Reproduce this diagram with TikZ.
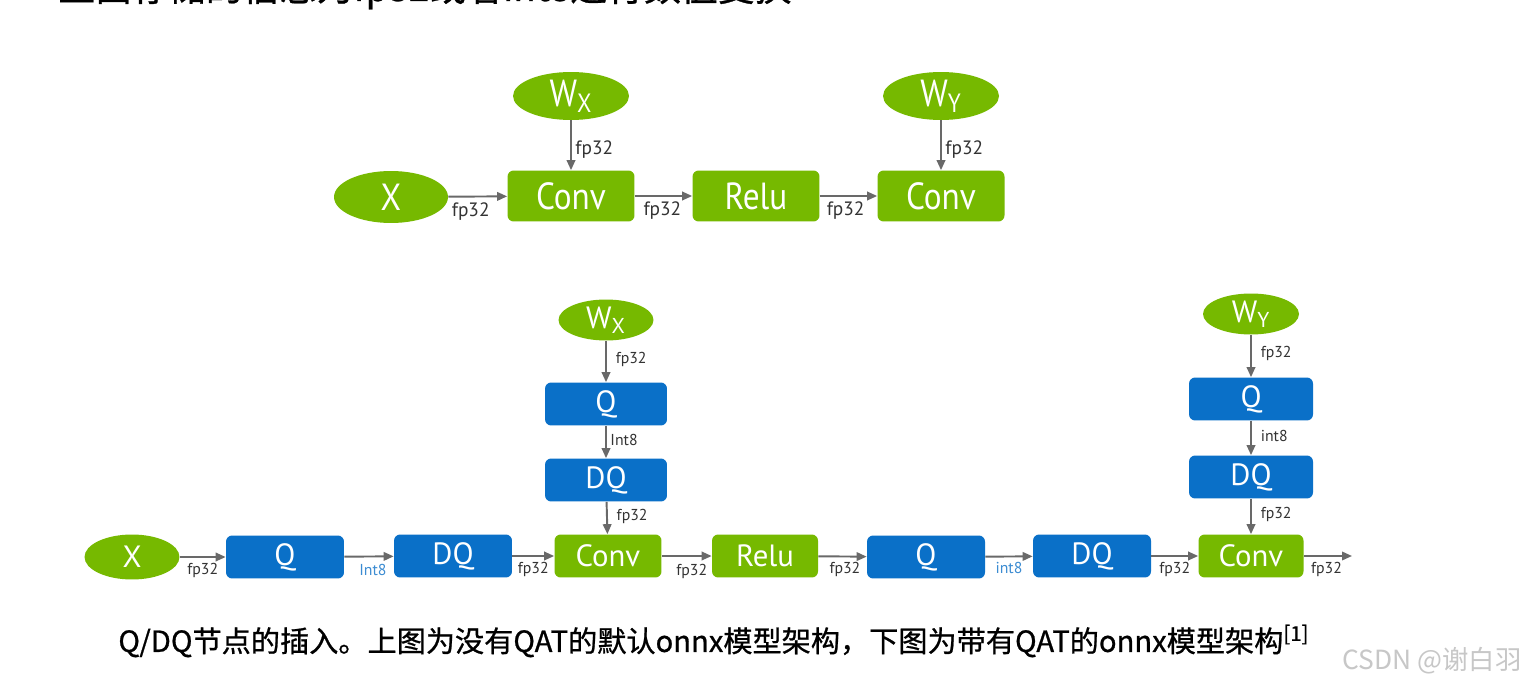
\documentclass[tikz,border=0pt]{standalone}
\usepackage{fontspec}
\setmainfont{PT Sans}
\newfontfamily\narrowfont{PT Sans}[FakeStretch=0.88]
\newfontfamily\cjkfont{Noto Sans CJK SC}
\newfontfamily\capfont{Noto Sans CJK SC}[FakeBold=0.8]
\usetikzlibrary{arrows.meta, positioning, shapes.geometric}
\definecolor{nvgreen}{RGB}{118,185,0}
\definecolor{qblue}{RGB}{10,112,200}
\definecolor{wiregray}{RGB}{105,105,105}
\definecolor{intblue}{RGB}{60,140,210}

\begin{document}
\begin{tikzpicture}[
    x=0.02cm, y=-0.02cm,
    op/.style={
        fill=nvgreen,
        rounded corners=3.5pt,
        text=white,
        minimum width=2.54cm,
        minimum height=1.02cm,
        inner sep=0pt,
        font=\narrowfont\fontsize{21.5}{21.5}\selectfont
    },
    tensor/.style={
        ellipse,
        fill=nvgreen,
        text=white,
        minimum width=2.32cm,
        minimum height=0.96cm,
        inner sep=0pt,
        font=\narrowfont\fontsize{21.5}{21.5}\selectfont
    },
    qdq/.style={
        op,
        fill=qblue
    },
    small/.style={
        minimum width=2.36cm,
        minimum height=0.86cm,
        font=\fontsize{17.5}{17.5}\selectfont
    },
    wire/.style={-{Triangle[length=2mm, width=1.7mm]}, draw=wiregray, fill=wiregray, line width=1.1pt},
    lbl/.style={text=black!80, inner sep=1pt, font=\fontsize{11}{11}\selectfont},
    slbl/.style={text=black!80, inner sep=1pt, font=\fontsize{9}{9}\selectfont}
]
\useasboundingbox[fill=white] (0,0) rectangle (1538,689);

% heading cut off at the top
\begin{scope}
\clip (0,0) rectangle (1538,40);
\node[anchor=base west, inner sep=0pt, font=\capfont\fontsize{21}{21}\selectfont] (heading) at (58,1) {上面存储的信息为fp32或者int8进行数值变换};
\end{scope}

% onnx graph without QAT
\node[tensor, minimum width=2.28cm, minimum height=1.04cm] (x) at (391,197) {X};
\node[op] (conv1) at (571,196) {Conv};
\node[op] (relu1) at (756,196) {Relu};
\node[op] (conv2) at (941,196) {Conv};
\node[tensor] (wx) at (571,96) {W\textsubscript{X}};
\node[tensor] (wy) at (941,96) {W\textsubscript{Y}};

\draw[wire] (x) -- node[lbl, pos=0.38, below=2pt] {fp32} (conv1);
\draw[wire] (conv1) -- node[lbl, pos=0.48, below=2pt] {fp32} (relu1);
\draw[wire] (relu1) -- node[lbl, pos=0.45, below=2pt] {fp32} (conv2);
\draw[wire] (wx) -- node[lbl, pos=0.58, right=1pt] {fp32} (conv1);
\draw[wire] (wy) -- node[lbl, pos=0.58, right=1pt] {fp32} (conv2);

% onnx graph with QAT
\node[tensor, minimum width=1.9cm, minimum height=0.9cm, font=\fontsize{17.5}{17.5}\selectfont] (x2) at (132,557) {X};
\node[qdq, small] (q1) at (285,557) {Q};
\node[qdq, small] (dq1) at (453,556) {DQ};
\node[op, small, minimum width=2.14cm] (conv3) at (608,556) {Conv};
\node[op, small, minimum width=2.12cm] (relu2) at (765,556) {Relu};
\node[qdq, small] (q2) at (926,557) {Q};
\node[qdq, small] (dq2) at (1092,556) {DQ};
\node[op, small, minimum width=2.1cm] (conv4) at (1251,556) {Conv};
\coordinate (out) at (1352,556);

\node[tensor, minimum width=1.9cm, minimum height=0.82cm, font=\fontsize{17.5}{17.5}\selectfont] (wx2) at (606,320) {W\textsubscript{X}};
\node[qdq, small, minimum width=2.44cm] (q3) at (606,404) {Q};
\node[qdq, small, minimum width=2.44cm] (dq3) at (606,480) {DQ};
\node[tensor, minimum width=1.92cm, minimum height=0.82cm, font=\fontsize{17.5}{17.5}\selectfont] (wy2) at (1251,314) {W\textsubscript{Y}};
\node[qdq, small, minimum width=2.48cm] (q4) at (1251,399) {Q};
\node[qdq, small, minimum width=2.48cm] (dq4) at (1251,477) {DQ};

\draw[wire] (x2) -- node[slbl, pos=0.5, below=2pt] {fp32} (q1);
\draw[wire] (q1) -- node[slbl, pos=0.58, below=3pt, text=intblue] {Int8} (dq1);
\draw[wire] (dq1) -- node[slbl, pos=0.5, below=2pt] {fp32} (conv3);
\draw[wire] (conv3) -- node[slbl, pos=0.6, below=3pt] {fp32} (relu2);
\draw[wire] (relu2) -- node[slbl, pos=0.55, below=2pt] {fp32} (q2);
\draw[wire] (q2) -- node[slbl, pos=0.5, below=2pt, text=intblue] {int8} (dq2);
\draw[wire] (dq2) -- node[slbl, pos=0.5, below=2pt] {fp32} (conv4);
\draw[wire] (conv4) -- node[slbl, pos=0.47, below=2pt] {fp32} (out);

\draw[wire] (wx2) -- node[slbl, pos=0.45, right=4pt] {fp32} (q3);
\draw[wire] (q3) -- node[slbl, pos=0.45, right=1pt] {Int8} (dq3);
\draw[wire] (dq3) -- node[slbl, pos=0.45, right=4pt] {fp32} (conv3);
\draw[wire] (wy2) -- node[slbl, pos=0.45, right=4pt] {fp32} (q4);
\draw[wire] (q4) -- node[slbl, pos=0.45, right=4pt] {int8} (dq4);
\draw[wire] (dq4) -- node[slbl, pos=0.45, right=4pt] {fp32} (conv4);

% caption and watermark
\node[anchor=west, inner sep=0pt, font=\capfont\fontsize{16.6}{16.6}\selectfont] (caption) at (118,641)
    {Q/DQ节点的插入。上图为没有QAT的默认onnx模型架构，下图为带有QAT的onnx模型架构\textsuperscript{[1]}};
\node[anchor=east, inner sep=0pt, text=black!22, font=\cjkfont\fontsize{15}{15}\selectfont] (mark) at (1522,661) {CSDN @谢白羽};
\end{tikzpicture}
\end{document}
